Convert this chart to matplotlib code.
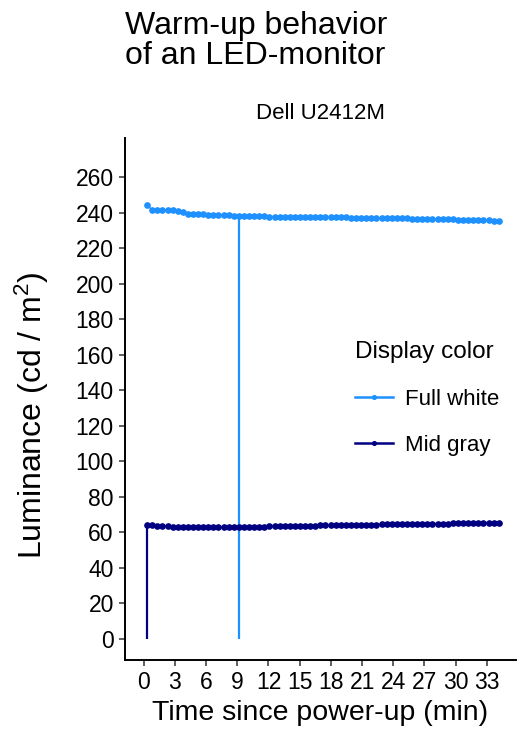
import matplotlib
matplotlib.use("Agg")
import matplotlib.pyplot as plt

plt.rcParams["font.family"] = ["Liberation Sans", "DejaVu Sans"]
plt.rcParams["mathtext.fontset"] = "custom"
plt.rcParams["mathtext.rm"] = "Liberation Sans"
plt.rcParams["mathtext.it"] = "Liberation Sans:italic"

# measurement times (min since power-up), roughly every 30 s
time_min = [
    0.33, 0.82, 1.31, 1.80, 2.29, 2.78, 3.27, 3.76, 4.25, 4.74,
    5.23, 5.72, 6.21, 6.70, 7.19, 7.68, 8.17, 8.66, 9.15, 9.64,
    10.13, 10.62, 11.11, 11.60, 12.09, 12.58, 13.07, 13.56, 14.05, 14.54,
    15.03, 15.52, 16.01, 16.50, 16.99, 17.48, 17.97, 18.46, 18.95, 19.44,
    19.93, 20.42, 20.91, 21.40, 21.89, 22.38, 22.87, 23.36, 23.85, 24.34,
    24.83, 25.32, 25.81, 26.30, 26.79, 27.28, 27.77, 28.26, 28.75, 29.24,
    29.73, 30.22, 30.71, 31.20, 31.69, 32.18, 32.67, 33.16, 33.65, 34.14,
]

full_white = [
    244.3, 241.4, 241.6, 241.6, 241.7, 241.5, 241.0, 240.1, 239.5, 239.3,
    239.1, 239.0, 238.9, 238.8, 238.7, 238.6, 238.5, 238.3, 238.2, 238.1,
    238.0, 238.0, 237.9, 237.9, 237.8, 237.8, 237.8, 237.7, 237.7, 237.6,
    237.7, 237.6, 237.6, 237.5, 237.5, 237.5, 237.4, 237.4, 237.3, 237.3,
    237.2, 237.2, 237.1, 237.1, 237.0, 237.0, 237.0, 236.9, 236.8, 236.8,
    236.7, 236.8, 236.6, 236.5, 236.5, 236.5, 236.4, 236.3, 236.3, 236.2,
    236.2, 236.1, 236.0, 236.0, 235.9, 235.8, 235.7, 235.6, 235.5, 235.3,
]

mid_gray = [
    64.2, 63.9, 63.7, 63.5, 63.4, 63.3, 63.2, 63.1, 63.0, 63.0,
    62.9, 62.9, 62.9, 62.9, 63.0, 63.0, 63.0, 63.0, 63.1, 63.1,
    63.2, 63.2, 63.3, 63.3, 63.4, 63.4, 63.5, 63.5, 63.6, 63.6,
    63.7, 63.7, 63.8, 63.8, 63.9, 63.9, 64.0, 64.0, 64.1, 64.1,
    64.2, 64.2, 64.3, 64.3, 64.4, 64.4, 64.5, 64.5, 64.6, 64.6,
    64.7, 64.7, 64.8, 64.8, 64.8, 64.9, 64.9, 65.0, 65.0, 65.0,
    65.1, 65.1, 65.2, 65.2, 65.2, 65.3, 65.3, 65.3, 65.4, 65.4,
]

# time at which each display colour is considered warmed up
series_names = ["Full white", "Mid gray"]
series_colors = ["#1E90FF", "#000080"]
stable_time = [9.15, 0.33]
stable_lum = [238.2, 64.2]

y_ticks = list(range(0, 261, 20))
x_ticks = list(range(0, 34, 3))

fig = plt.figure(figsize=(5.24, 7.36), dpi=100)
ax = fig.add_axes([0.2385, 0.1033, 0.9847 - 0.2385, 0.8125 - 0.1033])

for name, vals, col, ts, ls in zip(series_names, [full_white, mid_gray],
                                   series_colors, stable_time, stable_lum):
    ax.plot(time_min, vals, color=col, lw=1.0, marker="o", ms=3.8,
            mec=col, label=name, zorder=3)
    ax.vlines(ts, 0, ls, color=col, lw=1.6, zorder=2)

ax.set_xlim(-1.8, 35.8)
ax.set_ylim(-11.8, 282)
ax.set_xticks(x_ticks)
ax.set_yticks(y_ticks)

for side in ["top", "right"]:
    ax.spines[side].set_visible(False)
for side in ["left", "bottom"]:
    ax.spines[side].set_linewidth(1.4)
ax.tick_params(axis="both", labelsize=16.5, length=4, width=1.1,
               color="#333333", pad=4)

ax.set_xlabel("Time since power-up (min)", fontsize=20.5, labelpad=4)
ax.set_ylabel("Luminance (cd / m$^2$)", fontsize=23)
ax.yaxis.set_label_coords(-0.19, 0.469)

fig.text(0.238, 0.985, "Warm-up behavior\nof an LED-monitor", fontsize=23,
         ha="left", va="top", linespacing=1.0)
ax.set_title("Dell U2412M", fontsize=16, pad=14)

leg = ax.legend(title="Display color", loc="upper left",
                bbox_to_anchor=(335 / 524, 1 - 321 / 736),
                bbox_transform=fig.transFigure, frameon=False,
                fontsize=16, title_fontsize=17.5, alignment="left",
                handlelength=1.7, handletextpad=0.55, labelspacing=1.15,
                markerscale=0.7)
for h in leg.legend_handles:
    h.set_linewidth(1.8)

fig.savefig("out.png", dpi=100)
